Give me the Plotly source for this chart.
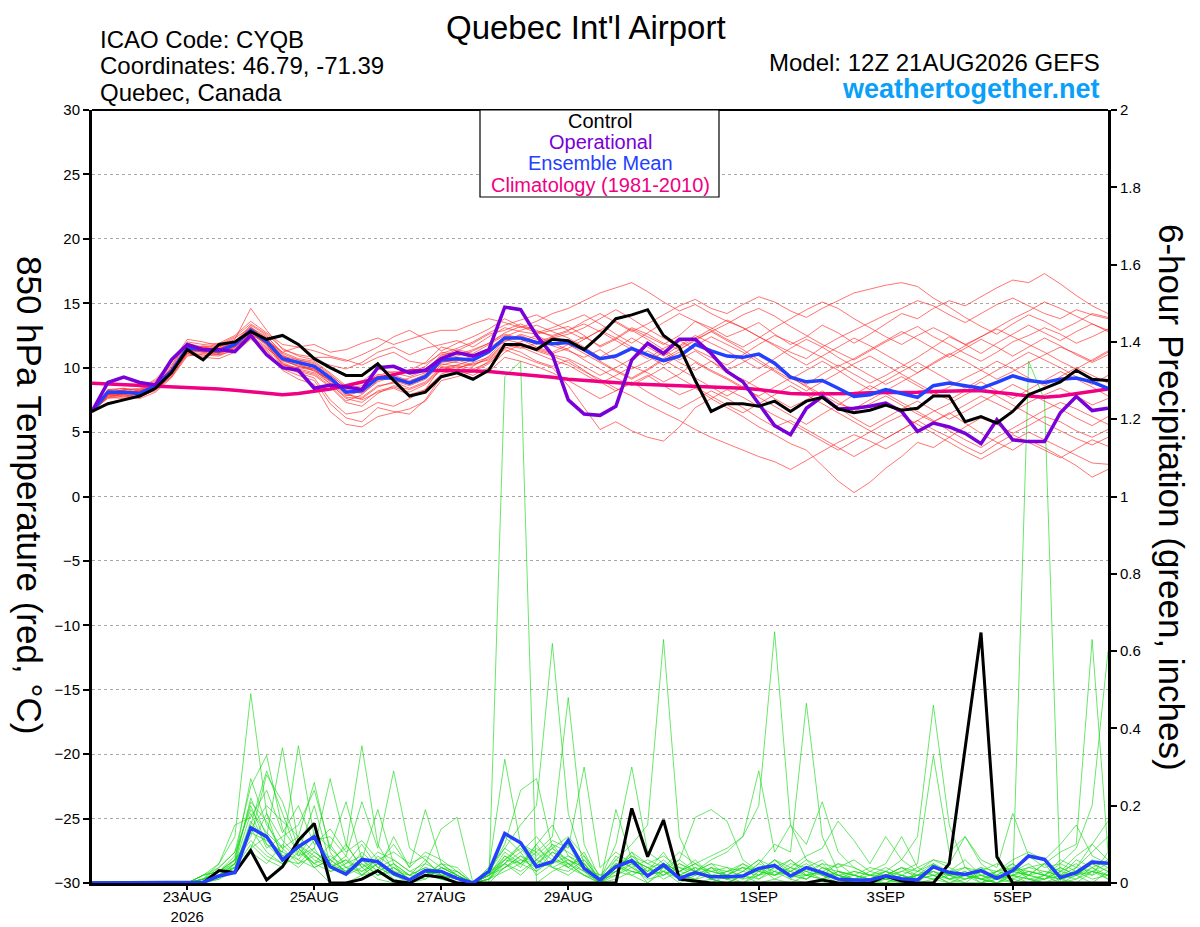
import pandas as pd
import plotly.graph_objects as go

# --------------------------------------------------
# Data: 6-hourly GEFS output, 21AUG2026 12Z -> 06SEP2026 12Z
# --------------------------------------------------
times = pd.date_range(start="2026-08-21 12:00", periods=65, freq="6h")

control_temp = [6.6, 7.2, 7.5, 7.8, 8.4, 9.6, 11.4, 10.6, 11.8, 12.0,
                12.8, 12.2, 12.5, 11.8, 10.7, 10.0, 9.4, 9.4, 10.3, 9.0,
                7.8, 8.1, 9.3, 9.6, 9.1, 9.8, 11.8, 11.8, 11.4, 12.2,
                12.1, 11.4, 12.5, 13.8, 14.1, 14.5, 12.5, 11.6, 9.0, 6.6,
                7.2, 7.2, 7.0, 7.4, 6.6, 7.4, 7.7, 6.8, 6.5, 6.7,
                7.1, 6.7, 6.85, 7.8, 7.8, 5.8, 6.2, 5.7, 6.6, 7.9,
                8.4, 8.9, 9.8, 9.1, 9.0]

oper_temp = [6.6, 8.85, 9.26, 8.85, 8.66, 10.6, 11.8, 11.4, 11.4, 11.25,
             12.5, 11.0, 10.0, 9.8, 8.4, 8.66, 8.5, 8.3, 10.0, 10.1,
             9.6, 9.8, 10.7, 11.17, 10.9, 11.4, 14.7, 14.5, 12.5, 11.0,
             7.5, 6.4, 6.3, 7.0, 10.6, 11.9, 11.1, 12.2, 12.2, 11.1,
             9.7, 8.9, 7.2, 5.5, 4.8, 6.85, 7.76, 6.8, 6.85, 7.0,
             7.25, 6.6, 5.05, 5.7, 5.4, 4.9, 4.1, 5.95, 4.4, 4.26,
             4.26, 6.5, 7.76, 6.67, 6.85]

mean_temp = [6.6, 8.1, 8.1, 8.0, 8.6, 9.7, 11.5, 11.4, 11.3, 11.8,
             12.9, 12.0, 10.7, 10.4, 10.1, 9.2, 8.1, 8.2, 9.2, 9.2,
             8.8, 9.3, 10.6, 10.7, 10.6, 11.25, 12.3, 12.3, 11.95, 11.85,
             11.95, 11.4, 10.7, 10.9, 11.5, 11.0, 10.55, 10.9, 11.8, 11.3,
             10.9, 10.8, 11.05, 10.35, 9.26, 8.9, 9.0, 8.4, 7.76, 7.9,
             8.3, 8.0, 7.7, 8.6, 8.8, 8.6, 8.4, 8.85, 9.36, 9.0,
             8.85, 9.1, 9.2, 8.9, 8.4]

clim_temp = [8.8, 8.75, 8.7, 8.65, 8.6, 8.55, 8.5, 8.45, 8.35, 8.25,
             8.15, 8.0, 7.9, 8.0, 8.15, 8.35, 8.6, 8.9, 9.2, 9.5,
             9.75, 9.8, 9.8, 9.8, 9.75, 9.7, 9.6, 9.5, 9.4, 9.25,
             9.1, 9.0, 8.9, 8.8, 8.75, 8.7, 8.65, 8.6, 8.6, 8.55,
             8.5, 8.4, 8.3, 8.15, 8.0, 7.95, 7.95, 8.0, 8.0, 8.05,
             8.05, 8.1, 8.1, 8.15, 8.2, 8.2, 8.2, 8.1, 7.95, 7.8,
             7.7, 7.8, 8.0, 8.2, 8.35]

control_precip = [0, 0, 0, 0, 0, 0, 0, 0, .032, .027,
                  .084, .008, .042, .11, .154, 0, 0, .01, .032, .005,
                  0, .02, .015, 0, 0, 0, 0, 0, 0, 0,
                  0, 0, 0, 0, .193, .068, .163, .01, .005, 0,
                  0, 0, 0, 0, 0, 0, .008, 0, 0, 0,
                  .018, .005, 0, 0, .05, .35, .648, .068, 0, 0,
                  0, 0, 0, 0, 0]

mean_precip = [0, 0, 0, 0, 0, 0, 0, .002, .018, .027,
               .143, .12, .06, .094, .12, .042, .023, .061, .055, .025,
               .008, .032, .03, .012, 0, .03, .128, .104, .042, .055,
               .11, .038, .008, .042, .058, .018, .047, .012, .027, .016,
               .016, .018, .038, .045, .018, .04, .027, .01, .008, .008,
               .018, .011, .008, .042, .027, .022, .032, .012, .032, .07,
               .061, .014, .027, .054, .051]

# ensemble members, 850 hPa temperature (deg C)
temp_members = [
    [6.7, 8.3, 8.4, 8.2, 8.9, 10.1, 11.9, 11.6, 11.8, 12.4, 13.4, 12.6, 11.5, 10.9, 10.6, 10.2, 9.9, 10.4, 11.2, 11.6, 11.0, 11.5, 11.8, 12.1, 11.6, 12.4, 13.1, 12.8, 12.6, 12.9, 13.2, 12.5, 11.6, 12.2, 13.0, 12.4, 11.8, 12.5, 13.6, 13.1, 12.4, 12.9, 13.5, 12.6, 11.8, 12.4, 13.3, 12.7, 11.9, 12.6, 13.4, 14.2, 13.8, 14.6, 15.2, 14.8, 15.5, 16.2, 16.8, 16.6, 17.3, 16.5, 15.6, 14.8, 14.2],
    [6.6, 8.0, 8.3, 8.4, 9.1, 10.4, 12.2, 12.0, 11.7, 12.3, 13.1, 12.4, 11.2, 11.6, 11.8, 11.2, 11.4, 11.9, 12.3, 11.8, 12.2, 12.6, 12.9, 12.9, 13.4, 13.8, 13.5, 13.1, 13.6, 14.2, 14.6, 15.2, 15.8, 16.2, 16.6, 15.9, 15.1, 14.4, 14.9, 14.2, 13.6, 13.1, 12.4, 11.8, 11.2, 10.7, 11.6, 12.3, 12.9, 13.5, 14.1, 14.6, 15.2, 14.8, 14.1, 13.5, 14.2, 14.9, 15.4, 14.8, 14.2, 13.8, 14.5, 14.1, 13.8],
    [6.8, 7.9, 7.8, 7.9, 8.4, 9.6, 11.3, 11.4, 11.2, 11.9, 12.8, 11.7, 10.3, 9.8, 9.5, 8.6, 7.4, 7.9, 9.0, 9.5, 9.8, 10.4, 11.6, 11.3, 11.9, 12.6, 12.9, 13.4, 12.8, 12.5, 12.9, 13.6, 14.2, 13.5, 12.8, 13.4, 14.1, 14.8, 15.3, 14.6, 14.2, 14.9, 15.5, 15.1, 14.4, 13.9, 14.6, 15.2, 15.8, 16.1, 16.4, 16.6, 16.3, 15.4, 14.7, 13.9, 13.2, 12.6, 13.4, 14.1, 13.6, 12.9, 13.5, 14.2, 13.9],
    [6.5, 7.8, 7.9, 7.7, 8.3, 9.4, 11.2, 11.0, 10.9, 11.5, 12.6, 11.9, 10.4, 9.9, 9.6, 8.8, 7.6, 7.3, 8.2, 8.5, 8.1, 8.7, 9.8, 10.2, 9.9, 10.4, 11.6, 11.2, 10.5, 10.1, 10.6, 9.8, 8.9, 8.2, 8.8, 9.4, 8.6, 7.9, 8.4, 7.6, 6.9, 6.2, 5.4, 4.8, 4.1, 3.6, 2.4, 1.2, 0.3, 1.1, 2.2, 3.1, 4.2, 3.8, 4.6, 5.4, 6.1, 5.6, 4.9, 5.5, 6.2, 5.8, 5.1, 4.6, 5.2],
    [6.7, 8.2, 8.0, 8.1, 8.7, 9.9, 11.6, 11.5, 11.1, 11.6, 12.7, 12.2, 11.1, 10.6, 10.4, 9.5, 8.4, 8.6, 9.5, 9.0, 8.6, 9.1, 10.2, 10.5, 10.9, 11.4, 12.0, 12.6, 12.2, 11.7, 11.3, 10.8, 11.4, 10.6, 9.9, 10.5, 11.2, 10.4, 9.8, 10.5, 9.6, 9.1, 8.4, 7.6, 6.9, 7.5, 8.2, 7.4, 6.6, 7.2, 7.8, 7.1, 6.4, 5.8, 6.5, 5.7, 4.9, 4.2, 3.6, 4.4, 3.8, 3.1, 2.4, 1.5, 2.1],
    [6.6, 7.7, 8.0, 8.3, 8.8, 9.8, 11.4, 11.7, 11.6, 12.0, 13.3, 12.5, 11.0, 10.3, 9.7, 9.0, 7.9, 7.7, 8.6, 8.8, 9.2, 9.6, 10.9, 11.4, 11.1, 11.8, 12.5, 12.2, 11.6, 11.2, 11.8, 12.4, 11.7, 12.3, 13.1, 12.6, 11.9, 11.4, 12.2, 12.8, 13.4, 14.1, 14.6, 14.0, 13.2, 12.5, 11.8, 11.2, 10.6, 11.3, 12.0, 12.6, 13.2, 12.4, 11.8, 11.1, 10.5, 11.2, 12.0, 12.5, 13.1, 12.6, 11.9, 12.4, 13.0],
    [6.5, 8.1, 8.2, 7.8, 8.5, 9.6, 11.1, 11.3, 11.5, 11.7, 12.9, 11.8, 10.2, 10.0, 9.8, 9.1, 8.0, 7.5, 8.1, 8.4, 7.9, 8.3, 9.5, 9.9, 10.4, 10.8, 11.9, 11.6, 11.1, 10.6, 10.2, 9.5, 8.8, 9.4, 10.1, 9.6, 8.9, 9.5, 10.4, 9.7, 9.1, 8.4, 7.8, 8.5, 9.2, 8.6, 7.9, 7.2, 6.8, 7.5, 8.2, 8.9, 9.6, 10.4, 11.1, 10.5, 9.8, 9.1, 9.7, 10.4, 11.0, 11.6, 11.1, 10.5, 11.2],
    [6.7, 7.9, 8.1, 8.0, 8.4, 9.5, 11.4, 11.2, 11.0, 11.6, 12.5, 11.6, 10.1, 9.6, 9.2, 7.5, 6.4, 6.6, 7.3, 7.0, 7.6, 8.3, 10.1, 9.8, 9.4, 10.0, 11.2, 11.8, 11.3, 10.9, 10.4, 9.7, 9.1, 8.4, 7.8, 7.1, 6.5, 5.9, 5.2, 4.6, 4.1, 3.6, 3.1, 2.7, 2.1, 2.8, 3.5, 4.2, 4.8, 4.3, 3.7, 4.4, 5.1, 5.8, 6.4, 7.1, 7.8, 7.2, 6.6, 7.3, 7.9, 8.4, 7.8, 7.1, 7.6],
    [6.6, 8.0, 7.9, 8.2, 8.6, 9.8, 11.7, 11.4, 11.4, 12.1, 13.0, 12.1, 11.2, 10.7, 10.5, 9.6, 8.6, 8.9, 9.9, 9.6, 9.3, 9.8, 11.0, 11.2, 10.8, 11.5, 12.4, 12.9, 13.3, 12.8, 12.3, 11.6, 10.8, 11.5, 12.3, 11.6, 10.9, 11.7, 12.5, 11.9, 11.3, 10.6, 9.9, 10.7, 11.5, 12.2, 11.6, 10.8, 10.1, 9.4, 8.7, 9.3, 8.6, 7.9, 8.5, 9.2, 9.8, 10.5, 9.9, 9.2, 8.6, 9.3, 10.0, 9.4, 8.8],
    [6.8, 8.2, 8.1, 7.9, 8.8, 9.9, 11.5, 11.6, 11.3, 11.8, 13.1, 12.3, 10.8, 10.5, 10.2, 9.3, 8.3, 8.1, 9.1, 9.4, 9.0, 9.4, 10.5, 10.4, 10.1, 10.9, 12.1, 12.5, 12.0, 12.4, 12.8, 12.2, 12.9, 13.6, 12.9, 12.2, 11.4, 10.6, 11.3, 10.5, 9.8, 10.4, 11.1, 10.2, 9.4, 8.7, 9.5, 10.2, 9.5, 8.8, 9.4, 10.1, 10.8, 11.6, 12.4, 11.8, 11.1, 11.9, 12.6, 13.3, 12.7, 12.1, 12.8, 13.4, 12.9],
    [6.5, 7.8, 7.7, 7.8, 8.2, 9.3, 11.0, 10.9, 11.2, 11.4, 12.4, 11.5, 10.6, 10.1, 9.9, 8.9, 7.8, 8.2, 9.3, 9.1, 8.7, 9.2, 10.4, 10.6, 10.2, 10.7, 11.8, 11.5, 11.9, 12.3, 11.8, 11.1, 10.4, 9.7, 9.1, 9.8, 10.6, 11.2, 10.5, 9.8, 9.2, 8.5, 7.7, 7.0, 6.3, 5.6, 6.4, 7.1, 7.9, 8.6, 8.0, 7.3, 6.6, 5.9, 5.1, 4.4, 3.8, 4.6, 5.3, 6.0, 6.7, 7.3, 6.8, 6.2, 5.6],
    [6.6, 8.3, 8.2, 8.1, 8.7, 10.0, 11.8, 11.5, 11.6, 12.2, 14.6, 12.9, 11.4, 11.0, 10.8, 10.8, 10.5, 11.0, 11.6, 12.4, 12.9, 12.2, 11.3, 11.9, 12.4, 13.0, 13.8, 13.2, 12.7, 13.1, 13.6, 14.1, 13.4, 12.6, 11.9, 12.7, 13.5, 14.2, 13.6, 12.9, 12.2, 11.6, 12.3, 13.1, 13.8, 14.5, 15.1, 14.6, 13.8, 13.1, 12.4, 11.8, 12.5, 13.1, 12.5, 11.8, 12.4, 13.1, 13.8, 14.4, 15.1, 14.6, 14.0, 13.4, 12.8],
    [6.7, 7.6, 7.8, 7.6, 8.1, 9.2, 10.9, 11.1, 11.0, 11.3, 12.3, 11.4, 9.9, 9.4, 9.0, 7.2, 6.1, 5.8, 6.9, 6.6, 6.4, 7.5, 9.3, 9.6, 9.2, 9.7, 10.8, 10.5, 10.1, 9.6, 9.0, 8.3, 7.6, 8.2, 8.9, 8.1, 7.4, 6.8, 7.5, 8.2, 7.6, 6.9, 6.1, 5.4, 5.9, 5.2, 4.5, 3.8, 3.1, 3.8, 4.5, 5.2, 5.9, 5.2, 4.6, 3.9, 3.3, 4.1, 4.8, 4.2, 3.6, 3.0, 3.7, 4.4, 3.9],
    [6.6, 8.0, 8.3, 8.3, 9.0, 10.2, 12.0, 11.8, 11.9, 12.5, 13.6, 12.7, 11.8, 11.6, 11.3, 10.9, 10.6, 10.2, 10.8, 11.2, 10.5, 10.3, 11.1, 11.5, 12.0, 12.7, 13.3, 13.7, 14.1, 13.5, 12.9, 13.4, 12.8, 12.1, 11.4, 10.7, 11.5, 12.1, 11.4, 10.8, 10.2, 11.0, 11.8, 12.5, 12.0, 11.4, 10.8, 10.1, 10.7, 11.4, 12.1, 12.8, 12.2, 11.5, 10.8, 11.5, 12.2, 11.6, 10.9, 11.6, 12.3, 11.7, 11.0, 10.4, 11.0],
    [6.7, 8.1, 8.0, 8.0, 8.5, 9.7, 11.3, 11.2, 11.3, 11.8, 12.7, 11.9, 10.5, 10.2, 9.9, 8.7, 7.7, 7.6, 8.5, 8.9, 8.4, 8.9, 10.0, 10.2, 10.6, 11.1, 12.2, 11.9, 11.4, 11.0, 10.7, 10.1, 9.4, 10.0, 10.7, 11.3, 10.6, 9.9, 9.2, 8.5, 7.8, 8.5, 9.3, 10.0, 9.3, 8.5, 7.7, 6.9, 6.1, 5.4, 6.1, 6.8, 7.4, 6.7, 6.0, 6.6, 7.3, 8.0, 8.7, 8.1, 7.4, 6.8, 6.1, 5.5, 6.2],
    [6.5, 8.2, 8.4, 8.0, 8.6, 9.5, 11.2, 11.6, 11.4, 11.9, 13.2, 12.0, 10.9, 10.4, 10.0, 9.2, 8.1, 8.4, 9.4, 9.7, 9.6, 10.1, 11.2, 11.0, 11.4, 11.9, 12.6, 12.3, 11.8, 12.3, 12.6, 13.1, 13.8, 14.5, 13.8, 13.0, 12.3, 11.6, 12.3, 13.0, 13.7, 13.1, 12.4, 11.7, 10.9, 10.2, 10.9, 11.6, 12.3, 11.7, 11.0, 10.3, 9.6, 10.3, 11.0, 11.7, 12.4, 13.0, 12.4, 11.8, 11.2, 10.5, 9.9, 10.6, 11.3],
    [6.6, 7.7, 7.6, 7.7, 8.3, 9.3, 11.1, 10.8, 10.7, 11.2, 12.2, 11.3, 9.8, 9.1, 8.7, 6.6, 5.6, 5.4, 6.2, 6.5, 6.8, 7.4, 9.0, 9.3, 9.7, 10.3, 11.4, 10.9, 10.4, 10.0, 8.6, 6.9, 5.2, 5.8, 5.1, 4.6, 4.3, 5.4, 6.9, 7.6, 8.3, 7.7, 7.0, 6.3, 5.7, 5.0, 4.3, 3.6, 4.3, 5.0, 5.7, 6.3, 5.6, 4.9, 4.2, 3.5, 2.9, 3.6, 4.3, 5.0, 4.4, 3.8, 3.2, 2.6, 2.5],
    [6.7, 8.0, 8.2, 8.1, 8.6, 9.7, 11.6, 11.3, 11.1, 11.7, 12.8, 12.0, 10.6, 10.1, 9.8, 9.0, 8.2, 8.0, 8.9, 9.3, 8.9, 9.5, 10.6, 10.9, 11.3, 11.9, 12.7, 13.2, 12.9, 12.4, 12.0, 11.3, 10.5, 9.8, 9.2, 9.9, 10.7, 11.4, 12.1, 12.8, 12.1, 11.4, 10.6, 9.8, 9.1, 9.8, 10.5, 9.8, 9.0, 8.3, 9.0, 9.7, 10.4, 9.7, 9.0, 8.4, 9.1, 9.8, 10.5, 11.2, 10.6, 10.0, 9.3, 8.7, 9.4],
    [6.6, 7.9, 8.0, 8.2, 8.7, 9.9, 11.6, 11.4, 11.5, 12.0, 13.0, 12.2, 10.9, 10.6, 10.3, 9.4, 8.5, 8.3, 9.3, 9.1, 8.8, 9.3, 10.3, 10.1, 9.7, 10.5, 11.5, 11.9, 11.5, 11.1, 11.5, 12.2, 12.9, 12.3, 11.6, 10.9, 10.2, 10.9, 11.7, 12.4, 11.8, 11.2, 10.4, 9.7, 8.9, 8.2, 8.9, 9.6, 10.3, 10.9, 10.2, 9.5, 8.8, 8.1, 7.5, 8.2, 8.9, 8.2, 7.6, 8.3, 9.0, 9.7, 9.1, 8.5, 7.8],
    [6.5, 7.9, 7.9, 7.9, 8.5, 9.6, 11.5, 11.3, 11.2, 11.6, 12.6, 11.8, 10.3, 9.7, 9.4, 8.5, 7.3, 7.0, 8.0, 8.6, 8.3, 8.8, 9.9, 10.0, 10.3, 10.6, 11.7, 12.0, 12.5, 11.9, 11.4, 10.6, 9.9, 9.2, 8.6, 9.3, 10.0, 9.2, 8.5, 7.8, 7.1, 6.5, 7.2, 7.9, 8.6, 7.9, 7.2, 6.5, 5.8, 5.1, 4.5, 5.2, 5.9, 6.6, 7.2, 7.9, 8.5, 7.8, 7.1, 6.4, 5.7, 5.1, 4.5, 4.0, 4.6],
]

# ensemble members, 6-hour precipitation (inches)
precip_members = [
    [0, 0, 0, 0, 0, 0, 0, .02, .05, .12, .49, .18, .06, .10, .04, 0, 0, .02, .05, .01, 0, .03, .01, 0, 0, .02, .12, .08, .02, .05, .10, .03, 0, .02, .05, 0, .04, .01, 0, 0, .02, 0, .03, .05, .01, 0, 0, .01, 0, 0, .01, 0, 0, .04, .02, 0, .03, .01, 0, .02, .05, 0, .01, .03, .02],
    [0, 0, 0, 0, 0, 0, 0, 0, .03, .06, .27, .15, .09, .12, .26, .08, .02, .04, .01, 0, 0, .02, .05, .02, 0, .04, .09, .15, .20, .62, .18, .05, 0, .03, .08, .02, .05, .01, .03, .01, 0, .02, .04, .01, 0, .02, .05, .01, 0, 0, 0, .02, 0, .01, 0, 0, 0, .02, .04, .01, 0, .01, .02, .05, .03],
    [0, 0, 0, 0, 0, 0, 0, .01, .04, .08, .25, .33, .14, .08, .05, .10, .04, .03, .06, .02, .01, .05, .03, .01, 0, .01, .06, .10, .08, .12, .48, .10, .01, .05, .02, 0, .03, 0, .02, .04, .01, 0, .02, .06, .03, .01, .04, .02, 0, 0, .02, .01, 0, .05, .01, .03, 0, .01, .02, 0, .01, .03, .05, .02, .08],
    [0, 0, 0, 0, 0, 0, 0, 0, .02, .05, .22, .12, .35, .10, .06, .04, .07, .02, .03, .05, 0, .01, .04, .02, 0, .03, .05, .02, .06, .10, .05, .02, 0, .06, .10, .15, .63, .12, .03, .01, 0, .02, 0, .01, .03, .05, .02, 0, .01, 0, 0, 0, .03, .02, 0, .01, .02, 0, .03, .05, .02, 0, .04, .10, .06],
    [0, 0, 0, 0, 0, 0, 0, .02, .03, .07, .20, .10, .08, .355, .12, .06, .03, .05, .02, .04, .02, .06, .02, 0, 0, .02, .08, .05, .10, .04, .03, .06, .01, .02, .04, .01, .02, .05, .03, .06, .08, .12, .20, .65, .15, .06, .02, .01, 0, 0, .01, 0, .02, .03, .01, 0, 0, .03, .05, .02, .01, .04, .02, 0, .03],
    [0, 0, 0, 0, 0, 0, 0, 0, .02, .04, .15, .29, .18, .07, .09, .27, .10, .04, .06, .02, .01, .03, .02, .01, 0, 0, .04, .07, .03, .08, .06, .03, 0, .04, .07, .03, .08, .02, .01, .04, .02, .01, .05, .10, .08, .465, .12, .03, .01, 0, .02, .04, .01, .02, 0, .02, .01, 0, .02, .04, .03, .02, .01, .04, .06],
    [0, 0, 0, 0, 0, 0, 0, .01, .03, .06, .12, .28, .21, .09, .04, .06, .09, .355, .10, .03, .01, .02, .04, .03, 0, .02, .05, .10, .06, .04, .02, .05, 0, .03, .02, .04, .01, .03, .05, .02, .01, .03, .06, .02, .04, .03, .02, .05, .02, .01, .03, .06, .12, .46, .15, .04, .01, 0, .02, .01, 0, .02, .04, .03, .01],
    [0, 0, 0, 0, 0, 0, 0, 0, .01, .05, .18, .09, .12, .15, .24, .09, .21, .06, .19, .05, .02, .04, .03, .01, 0, .01, .03, .05, .09, .06, .04, .02, .01, .05, .03, .02, .04, .06, .03, .05, .02, .04, .03, .06, .02, .01, .04, .03, .02, .01, .02, .03, .05, .33, .08, .12, .05, .02, .01, .03, .02, .01, .03, .02, .04],
    [0, 0, 0, 0, 0, 0, 0, 0, .02, .04, .10, .06, .04, .08, .20, .05, .03, .08, .04, .02, 0, .02, .01, 0, 0, 0, 1.31, 1.35, 0, .03, .05, .02, 0, .01, .03, .02, .03, .01, 0, .01, .03, .02, .01, .04, .02, .03, .01, .02, .01, 0, 0, .01, .02, .03, .01, .02, .01, 0, .01, 0, .02, .01, 0, .03, .02],
    [0, 0, 0, 0, 0, 0, 0, .01, .02, .03, .08, .05, .10, .06, .11, .12, .07, .21, .09, .29, .09, .06, .02, .01, 0, .04, .32, .10, .07, .11, .09, .30, .04, .08, .05, .03, .06, .02, .04, .01, 0, .02, .05, .03, .01, .04, .02, .01, .03, .02, .01, .02, 0, .04, .03, .01, .03, .02, .05, .01, .01, .02, .03, .01, .02],
    [0, 0, 0, 0, 0, 0, 0, 0, .03, .05, .14, .08, .05, .10, .07, .04, .06, .03, .05, .10, .04, .19, .05, .02, 0, .03, .10, .24, .27, .09, .06, .04, .01, .10, .30, .08, .05, .03, .06, .02, .01, .03, .02, .05, .02, .01, .03, .02, .01, .02, .04, .02, .01, .02, .01, .02, 0, .01, .03, .02, .01, .03, .02, .04, .01],
    [0, 0, 0, 0, 0, 0, 0, .01, .02, .06, .11, .07, .05, .09, .05, .03, .05, .10, .04, .06, .03, .05, .14, .17, 0, .02, .05, .08, .12, .07, .04, .08, 0, .19, .06, .04, .02, .05, .03, .02, .01, .02, .04, .02, .03, .02, .01, .03, .02, .01, 0, .02, .01, .03, .02, .01, .02, .03, .04, .02, .05, .08, .10, .63, .08],
    [0, 0, 0, 0, 0, 0, 0, 0, .01, .03, .09, .12, .07, .04, .08, .05, .02, .06, .03, .05, .02, .04, .02, .03, 0, .01, .07, .04, .10, .15, .07, .05, 0, .04, .08, .05, .03, .06, .17, .19, .16, .06, .03, .02, .04, .02, .03, .01, .02, .01, .03, .01, .02, .01, .02, .02, .04, .01, .02, .03, .02, .05, .09, .20, .60],
    [0, 0, 0, 0, 0, 0, 0, .01, .02, .04, .16, .10, .06, .05, .09, .03, .04, .02, .07, .04, .01, .03, .01, .02, 0, .02, .04, .06, .05, .09, .12, .07, .02, .06, .04, .02, .05, .03, .05, .07, .09, .12, .29, .08, .15, .10, .21, .08, .04, .02, .01, .03, .02, .01, .03, .02, .01, .03, .02, .01, .02, .04, .02, .03, .05],
    [0, 0, 0, 0, 0, 0, 0, 0, .02, .05, .13, .11, .08, .06, .04, .06, .03, .05, .02, .03, 0, .02, .03, .01, 0, .03, .06, .05, .08, .04, .06, .04, .01, .03, .05, .03, .04, .02, .04, .03, .02, .05, .03, .06, .04, .07, .09, .16, .11, .05, .12, .06, .03, .05, .02, .04, .02, .01, .03, .02, .03, .02, .06, .04, .02],
    [0, 0, 0, 0, 0, 0, 0, .02, .04, .08, .19, .13, .09, .05, .07, .04, .06, .02, .05, .03, .02, .01, .04, .02, 0, .01, .05, .03, .06, .09, .04, .07, 0, .05, .06, .04, .02, .04, .02, .03, .04, .01, .02, .04, .06, .03, .05, .04, .06, .03, .05, .12, .04, .06, .05, .12, .06, .04, .18, .07, .04, .05, .03, .06, .04],
    [0, 0, 0, 0, 0, 0, 0, .01, .03, .06, .21, .16, .07, .09, .05, .07, .04, .06, .02, .04, .01, .03, .02, .01, 0, .02, .07, .05, .03, .06, .05, .03, .01, .04, .03, .02, .03, .02, .01, .02, .03, .04, .01, .03, .02, .02, .01, .03, .02, .04, .03, .01, .02, .04, .02, .03, .01, .02, 0, 1.35, 1.25, 0, .02, .05, .03],
    [0, 0, 0, 0, 0, 0, 0, 0, .02, .03, .09, .18, .11, .07, .13, .09, .05, .07, .03, .12, .04, .08, .06, .03, 0, .01, .04, .07, .05, .08, .05, .06, .01, .07, .04, .06, .04, .08, .05, .03, .02, .04, .03, .02, .05, .04, .06, .02, .03, .02, .02, .04, .03, .06, .04, .02, .04, .03, .06, .08, .06, .10, .15, .07, .05],
    [0, 0, 0, 0, 0, 0, 0, .01, .05, .15, .17, .24, .13, .20, .10, .14, .08, .11, .06, .08, .05, .07, .04, .02, 0, .03, .09, .06, .04, .10, .08, .05, .01, .04, .07, .05, .07, .04, .03, .05, .04, .03, .06, .04, .03, .06, .04, .02, .01, .03, .02, .04, .02, .05, .03, .06, .02, .01, .04, .03, .02, .06, .04, .08, .12],
    [0, 0, 0, 0, 0, 0, 0, .02, .03, .04, .14, .20, .16, .12, .08, .05, .10, .04, .08, .06, .03, .02, .05, .04, 0, .02, .06, .09, .04, .05, .07, .04, .02, .03, .06, .04, .05, .03, .02, .04, .03, .05, .02, .03, .06, .02, .03, .05, .04, .02, .03, .02, .04, .02, .03, .04, .03, .05, .03, .04, .05, .03, .07, .10, .16],
]

for s in temp_members + precip_members + [control_temp, oper_temp, mean_temp, clim_temp, control_precip, mean_precip]:
    assert len(s) == len(times), len(s)

tick_dates = ["2026-08-23", "2026-08-25", "2026-08-27", "2026-08-29",
              "2026-09-01", "2026-09-03", "2026-09-05"]
tick_text = ["23AUG<br>2026", "25AUG", "27AUG", "29AUG", "1SEP", "3SEP", "5SEP"]

# --------------------------------------------------
# Figure: precip on "y" (right side), temperature on "y2" (left, drawn on top)
# The page body has an 8px margin, so the figure is 8px smaller than the window
# and every position below is given in window pixels minus that offset.
# --------------------------------------------------
FONT = "Liberation Sans, Arial, sans-serif"
OFF = 8
W, H = 1200 - OFF, 927 - OFF
L, R, T, B = 92 - OFF, 1200 - 1108, 110 - OFF, 927 - 883


def px(x, y):
    # window pixel position -> paper coordinates
    fx, fy = x - OFF, y - OFF
    return (fx - L) / (W - L - R), (H - B - fy) / (H - T - B)


fig = go.Figure()

for m in precip_members:
    fig.add_trace(go.Scatter(x=times, y=m, mode="lines", yaxis="y",
                             line=dict(color="rgba(20,215,20,0.8)", width=0.8),
                             hoverinfo="skip"))
fig.add_trace(go.Scatter(x=times, y=control_precip, mode="lines", yaxis="y",
                         line=dict(color="black", width=3)))
fig.add_trace(go.Scatter(x=times, y=mean_precip, mode="lines", yaxis="y",
                         line=dict(color="#2340ff", width=3.5)))

for m in temp_members:
    fig.add_trace(go.Scatter(x=times, y=m, mode="lines", yaxis="y2",
                             line=dict(color="rgba(255,40,40,0.72)", width=0.9),
                             hoverinfo="skip"))
fig.add_trace(go.Scatter(x=times, y=clim_temp, mode="lines", yaxis="y2",
                         line=dict(color="#f00082", width=3.5)))
fig.add_trace(go.Scatter(x=times, y=mean_temp, mode="lines", yaxis="y2",
                         line=dict(color="#2340ff", width=3.5)))
fig.add_trace(go.Scatter(x=times, y=oper_temp, mode="lines", yaxis="y2",
                         line=dict(color="#7a00d8", width=3.5)))
fig.add_trace(go.Scatter(x=times, y=control_temp, mode="lines", yaxis="y2",
                         line=dict(color="black", width=3)))

tick_font = dict(family=FONT, size=15, color="black")

fig.update_layout(
    width=W, height=H,
    margin=dict(l=L, r=R, t=T, b=B, autoexpand=False),
    paper_bgcolor="white", plot_bgcolor="white",
    showlegend=False,
    font=dict(family=FONT, color="black"),
    xaxis=dict(
        type="date", automargin=False,
        range=["2026-08-21 12:00", "2026-09-06 12:00"],
        tickvals=tick_dates, ticktext=tick_text,
        ticks="outside", ticklen=4, tickwidth=1.5, tickcolor="black",
        ticklabelstandoff=-6,
        showgrid=False, zeroline=False,
        showline=True, linecolor="black", linewidth=3,
        tickfont=tick_font,
    ),
    yaxis=dict(
        side="right", range=[0, 2], dtick=0.2, automargin=False,
        ticks="outside", ticklen=6, tickwidth=1.5, tickcolor="black",
        showgrid=False, zeroline=False,
        showline=True, linecolor="black", linewidth=3,
        tickfont=tick_font,
    ),
    yaxis2=dict(
        side="left", overlaying="y", range=[-30, 30], dtick=5, automargin=False,
        ticks="outside", ticklen=6, tickwidth=1.5, tickcolor="black",
        showgrid=True, gridcolor="#a8a8a8", griddash="dot", gridwidth=1,
        zeroline=False,
        showline=True, linecolor="black", linewidth=3,
        tickfont=tick_font,
    ),
)

# top border of the plot
fig.add_shape(type="line", xref="paper", yref="paper", x0=0, x1=1, y0=1, y1=1,
              line=dict(color="black", width=2))

# legend box
bx0, by0 = px(480, 197)
bx1, by1 = px(719, 110)
fig.add_shape(type="rect", xref="paper", yref="paper", x0=bx0, x1=bx1, y0=by0, y1=by1,
              line=dict(color="black", width=1.2), fillcolor="white", layer="above")
legend_items = [("Control", "black", 121), ("Operational", "#7a00d8", 142),
                ("Ensemble Mean", "#2340ff", 163), ("Climatology (1981-2010)", "#f00082", 185)]
for text, color, ypix in legend_items:
    lx, ly = px(600, ypix)
    fig.add_annotation(text=text, x=lx, y=ly, xref="paper", yref="paper",
                       showarrow=False, xanchor="center", yanchor="middle",
                       font=dict(family=FONT, size=20, color=color))

# titles and header texts; the title box starts at the very top of the figure
tx, ty = px(586, OFF)
fig.add_annotation(text="Quebec Int'l Airport", x=tx, y=ty, xref="paper", yref="paper",
                   showarrow=False, xanchor="center", yanchor="top", borderpad=0,
                   font=dict(family=FONT, size=33, color="black"))
for text, ypix in [("ICAO Code: CYQB", 40), ("Coordinates: 46.79, -71.39", 66),
                   ("Quebec, Canada", 93)]:
    ax, ay = px(98, ypix)
    fig.add_annotation(text=text, x=ax, y=ay, xref="paper", yref="paper",
                       showarrow=False, xanchor="left", yanchor="middle",
                       font=dict(family=FONT, size=24, color="black"))
mx, my = px(1102, 62)
fig.add_annotation(text="Model: 12Z 21AUG2026 GEFS", x=mx, y=my, xref="paper", yref="paper",
                   showarrow=False, xanchor="right", yanchor="middle",
                   font=dict(family=FONT, size=24, color="black"))
wx, wy = px(1102, 89)
fig.add_annotation(text="<b>weathertogether.net</b>", x=wx, y=wy, xref="paper", yref="paper",
                   showarrow=False, xanchor="right", yanchor="middle",
                   font=dict(family=FONT, size=27, color="#0aa0f8"))

# axis titles, both read top to bottom
lx, ly = px(30, 495)
fig.add_annotation(text="850 hPa Temperature (red, °C)", x=lx, y=ly, xref="paper", yref="paper",
                   showarrow=False, textangle=90, xanchor="center", yanchor="middle",
                   font=dict(family=FONT, size=35, color="black"))
rx, ry = px(1172, 497)
fig.add_annotation(text="6-hour Precipitation (green, inches)", x=rx, y=ry, xref="paper", yref="paper",
                   showarrow=False, textangle=90, xanchor="center", yanchor="middle",
                   font=dict(family=FONT, size=35, color="black"))

fig.write_html("out.html")
